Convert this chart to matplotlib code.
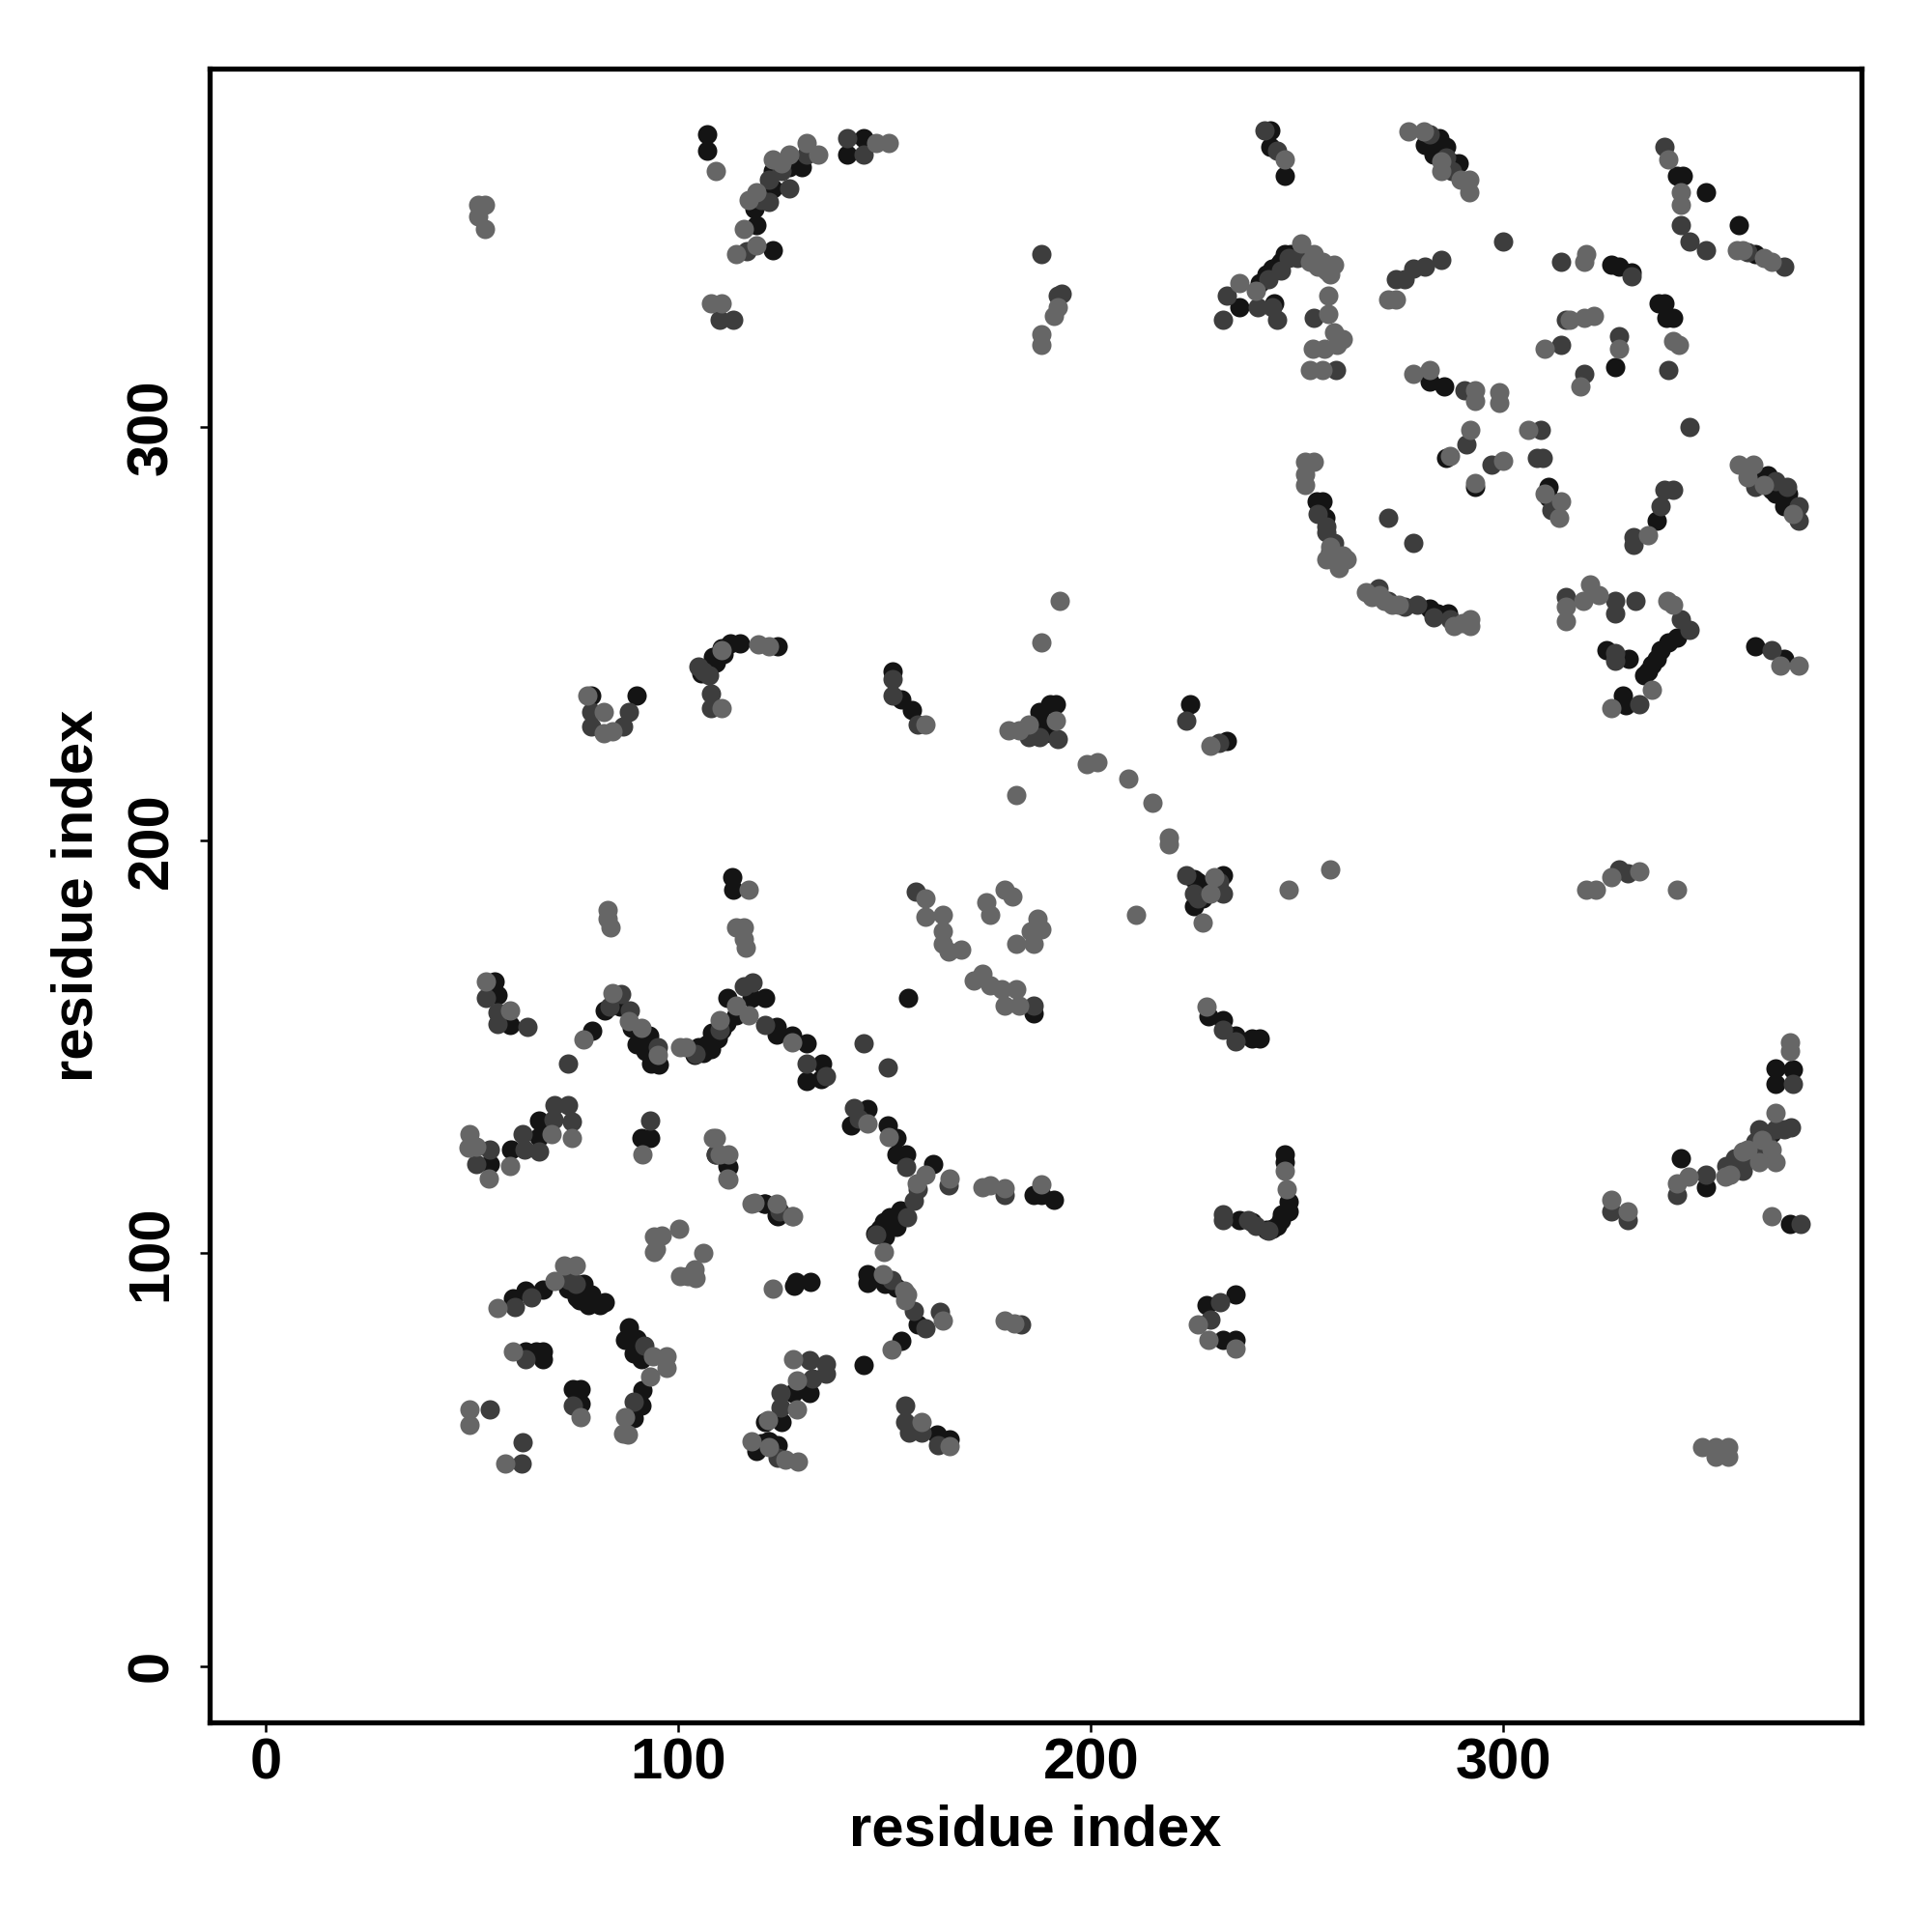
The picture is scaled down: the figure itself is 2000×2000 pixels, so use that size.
import matplotlib
matplotlib.use("Agg")
import matplotlib.pyplot as plt

dark_pts = [(107,371),(107,367),(123,343),(119,349),(118.5,353),(123,358),(123,362),(127,363),(130,363),(141,366),(145,370),
(243.5,372),(243.5,368),(247,361),(284.5,370),(281,368.5),(284.5,366.5),(288,364),(289,364),(283,366),(286,368),(342,361),(343.5,361),(349,357),(357,349),(361,342),
(236,329),(244.5,330),(242.5,337),(244,338.5),(245.5,339.5),(247,342),(248.5,342),(241,335),(243,337),(246,340),(282,311),(285.6,310),(286,292.6),(293,285.6),
(311,285.6),(311,283),(326,339.5),(331,337.5),(328,339),(337.5,330),(339,330),(339.5,326.5),(341,326.5),(327,314.5),(254.6,282),(256,282),(256.7,278),
(282,256),(284,255),(286.6,255),(364,288.5),(362,287),(365,285),(366,284),(369,284),(368,281),(337,277.5),(340,248),(338,246),(336,242.5),(334,240),(342,249),(337,244),(335,241),(325,246),(330.4,244),(329,235),(329.6,232.6),
(361,247),(368,244),(79,235),(90,235),(108.4,244.5),(110.5,246.4),(112.5,247.8),(115,247.8),(124,247),(107,241),(109,243),(111,245),(105.5,240.5),
(152,241),(154,234),(156.7,231.6),(187.5,231),(189.5,227.5),(191.6,233),(190,233),(189,226),(187,228),(224,233),(233,224),
(225,190.5),(226,190),(225,184),(232,191.6),(227,186),(227,189),(228,187),(113,191),(113.4,188),(186,158),
(55.4,165.8),(56.1,162.6),(59.2,155.3),(79.2,153.8),(82.1,158.8),(86,159.6),(88.7,154.6),(93,152.6),(89.9,150.6),(93.4,146),(95.3,145.6),(91,151),(92,149),
(105,149.9),(107,150.6),(108.1,153.4),(111.6,155.7),(114,157.6),(112,161.9),(117.8,161.9),(121,161.8),(123.9,154.9),(123.9,153),(127.7,152.8),(131,150.8),(106,148.5),(108,149.5),(109.5,152),(110.5,154),(104,148),
(131,141.7),(134.9,146),(134.5,142.1),(155.7,161.8),(54.4,121.6),(59.4,125.1),(66.2,132),(66.2,128.2),(91.1,127.9),(93.2,127.9),(109.1,123.9),(112.2,120.8),
(120.7,112),(123.9,109.1),(141.9,130.9),(145.8,134.9),(150.8,130.9),(152.9,127.8),(152.9,123.9),(155.1,123.9),(153.9,110.3),(151.2,108.8),(148.9,106),(150.1,104.1),(152.8,106.4),(149.8,107.5),(147.8,104.8),
(161.8,121.5),(60,89.1),(63.1,90.9),(67.2,91.1),(73.2,91.3),(75.5,89.4),(77.1,92.5),(79,90.1),(78.3,87.4),(81,87.4),(82.1,88.2),(76,88.5),
(63.1,76.2),(67.2,76.2),(67.2,74.2),(65.5,76.2),(74.4,67),(76.3,67),(76.3,63.6),(88,82),(87.2,78.9),(89.9,79.3),(89.1,75.8),(91.1,74.2),(91.2,66.9),(91.1,63),(89.1,60),
(127.9,66.1),(131.8,66.1),(125.1,59.1),(121,59.2),(121.7,54.4),(120,54),(122,54.5),(119,52),(124,53.5),(162.7,56),(165.7,55),(145,73),(154,78.8),(145.8,94.8),(145.8,92.8),(152.8,91.7),(150.1,92.5),(158,82.7),
(186,114),(188,114),(191,113),(228.4,157.3),(232,156.4),(235,152.8),(239,152),(241,152),(236,108),(239,107.5),(242.5,105.6),(245,106.5),(246.3,109.5),(247.8,112.5),(247,124),(247,122),(244,106),(246,108),(248,110),
(228,87.5),(232,79),(235,90),(235,79),(343,123),(349,116),(361,124.5),(365,129),(366,144.7),(370,144.5),(366,141),(369.3,107),(128,92),(128.5,93),(132,93),(121,112),(124,109),(112,121)]

mid_pts = [(116.7,342.6),(122,354.5),(120,355),(122,360),(125,362),(127,358),(131,366),(141,370),(145,366),(113.4,326),(110,326),(188,342),(192,332),(193,332.5),
(242,372),(245,367),(282,371),(286,365.4),(287.5,362),(339,368),(343,349),(349,343),(368,339),(359,342.5),(345,345),(300,345),
(232,326),(233,332),(240.5,329),(244,329),(245,326),(248,341),(250,341),(252,342),(246,338),(254,326.5),(243,336),(259.5,314),(274,336),(278,338.5),(281,339),(285,340.5),(276,336),
(290.5,309),(291,296),(297,291),(309,299.5),(308,292.5),(309.5,292.5),(311.5,280),(345,300),(314,340),(315,326),(314,320),(328,322),(319.5,313),(340,314),(331,336.5),
(255,279),(257,276),(259,272),(258,270),(257,274.6),(269.6,261),(272,258),(276,256.5),(279,257),(283,254),(287,253.5),(272,278),(278,272),(368.6,285.6),(361,285.6),(371.6,281),(371.6,277.5),(366,287),
(339,285),(341,285),(338,281),(331.4,273.4),(331.4,271.6),(315,259),(327,255),(332,258),(327,258),(343,253.5),(345,251),(327,245.4),(327,243.5),(333,233),
(365,246),(79,231),(79,227.5),(86.6,227.5),(88,231),(105,242),(106,241),(107.5,240),(108,235.5),(108,232),(152,239),(152,235),(158,228),
(185,225),(192,224.5),(187.5,225),(223,229),(231,223.5),(223,191.6),(225,187),(226,186),(231,190),(232,187),(328,193),(330,192),(157.6,187.5),(186,160),
(53.4,161.9),(56.1,158.4),(56.1,155.6),(63.4,154.8),(73.2,145.9),(83.3,159.6),(86.2,162.7),(88.2,158.8),(95,149.9),(104.3,148.3),(110.1,154.2),(115.9,164.6),(118.1,165.6),(121,155.3),(131,146),(135.9,142.9),
(144.9,150.8),(150.8,144.9),(54.4,125.1),(51.1,121.6),(62.2,128.9),(62.7,125.1),(66.2,124.6),(70.1,135.9),(69.7,132.4),(73.2,135.9),(74.2,131.9),(93.2,132),
(142.5,135.1),(143.8,132.6),(155.3,120.8),(157,112.6),(147.9,104.5),(155.5,108.8),(158,115.5),(165.6,116.5),(60.3,87),(64.3,89.4),(73.6,93.6),(75.2,92.5),
(63.1,74.2),(74.4,63),(54.4,62.2),(62.4,54.3),(62,49),(91.8,77.7),(89.1,64.1),(131.8,74),(135.9,73.1),(135.9,70.7),(132.6,69.6),(124.8,66.1),(124.8,62.6),
(124,50.5),(155,63),(155,59),(156,56.5),(159,56.5),(163,53.5),(151.6,93.6),(160,81.8),(163.3,85.7),(157,86),(183,82.7),(179,114),
(235,151.3),(232,154),(232,109.5),(240,106.5),(243,105.5),(238,108),(232,108),(229,84),(231.3,88),(326,110),(330,108),(342,114),(349,119),(354,121),(356,123),(358,122),(358,120),(360,123),(363,125),(361,127),(364,126),(368,130),(362,130),(366,130),(369.6,130.5),(370,141),(372,107),(124.5,110),(109,124)]

light_pts = [(51.6,354),(53.1,354),(51.6,351),(53.1,348),(109,362),(114,342),(119,344),(116,348),(117,355),(119,357),(123,365),(125,364),(127,366),(131,369),(134,366),(148,369),(151,369),
(108,330),(110.5,330),(188,320),(188,322.5),(192,329),(191,327),(247,365),(277,371.6),(280.6,371.6),(285,362),(289.5,360),(291.6,360),(291.6,357),(285,364.5),
(340,365),(343,357),(343,354),(356.6,343),(358,343),(365,340),(363,341),(236,335),(240,333),(251,344.5),(253,340),(254,342),(255,339),(256,340),(257,338),(258,337),(259,339.5),(257.6,332),(257.6,327.5),(259,323),(261,321.5),(259.6,320),(253.7,319),(256.5,319),(253,314),(256,314),
(272,331),(274,331),(278,313),(282,314),(293,309),(293,306.5),(299,308.5),(299,306),(292,299.5),(287,293),(300,292),(293,286.5),(306,299.5),(310,284),(314,282),(313.5,278),
(319.5,340),(320,342),(316,326),(319.5,326.5),(322,327),(310,319),(328,319),(341,321),(342.5,320),(318.5,310),
(252,291.6),(254,291.6),(252,288.6),(252,286),(258,271),(257,268),(261,269),(261.4,268),(262,268),(260,266),(266.6,260),(268,259),(270,259.5),(271,258),(273,257),(274.6,257),(288,252),(290,252.5),(292,253.5),(292,252),
(357,291),(360.6,291),(359,288),(363,286),(370,279),(335,274),(315,256.5),(315,253),(321,262),(323,259.5),(319.4,258),(339.6,258),(341,257),(336,236.4),(326,232),(367,242.4),(371.6,242.4),
(78,235),(82,231),(82,226),(84,226.5),(119.4,247.5),(122,247),(110.5,246),(110.5,232),(160,228),(180,226.6),(182.7,226.6),(191.6,229),(185,228),
(192.5,258),(188,248),(182,211),(199,218.5),(201.5,219),(209,215),(215,209),(219,200.6),(219,199),(229,223),(227,180),(229,187),(230,191),(248,188),(258,193),(211,182),
(320,188),(322.4,188),(326,191),(333,192.5),(342,188),(117,188),(114,179),(116,179),(116,176),(116.4,174),(83,183),(83,181),(83.6,179),
(160,186),(160,181.5),(164,182),(164,178),(164,175),(165.5,173),(168.5,173.5),(174.6,185),(179,188),(181,186.5),(175.5,182),(187,181),(185.5,178),(188,178.5),(182,175),(186,175),
(171.6,166),(173.7,167.7),(175.5,164.8),(178.5,164),(182,164),(179,160),(182.5,160),
(53.4,165.8),(59.2,158.8),(77.1,151.8),(84.1,163.1),(91.1,154.6),(95,148),(88,156.1),(100.4,149.9),(101.8,149.9),(110.1,156.5),(114,160),(117.1,157.6),(127.5,151),
(49.4,128.9),(49.2,125.5),(51.1,125.8),(54.2,118.1),(59.3,121.2),(69.3,128.9),(74.2,127.8),(91.2,123.9),(109.1,128),(110.1,123.9),(112.2,123.9),(112.2,117.9),
(117.8,112),(123.9,112),(127.9,109),(145.8,131.3),(151,128.2),(157.8,116.9),(149.9,100.2),(165.7,118),(160,119),
(94.2,104.1),(96.1,104.3),(100.2,106),(94.2,100.2),(94.6,101),(106.1,100.1),(100.4,94.4),(103.9,96),(104.3,94),(102.3,94.4),
(56.3,86.6),(70,93.2),(72.4,97.1),(75.2,97.1),(60,76.2),(76.3,60.3),(49.4,62.2),(49.4,58.3),(58,49),(93.8,75),(97.1,75),(97.1,72.3),(93.2,70),(87.2,60.3),(86.6,56.4),(87.8,56.1),
(127.9,74.2),(128.7,69.2),(128.7,62.2),(121.7,59.5),(117.8,54.4),(122,53),(126,50),(129,49.5),(159,59),(165.7,53.3),(151.6,76.7),(149.7,94.8),(154.8,90.9),(155.5,90),(155,88.6),(164,83.6),
(179,83.6),(181.5,83),(173.7,116),(175.5,116.4),(179,115.8),(188,116.7),(228,159.7),(247.5,115.5),(247,120),(226,82.7),(228.4,79),(235,77),(326,113),(330,110),
(342,117),(344.8,118.5),(353.7,118.5),(355,119),(358,124.5),(359,125),(362,122),(362.7,127.5),(365,125),(366,122),(366,134),(369.5,149),(369.5,151),(365,109),(348,53),(351.3,53),(354.4,53),(351.3,50.7),(354.4,50.7),
(123,91.3),(118.5,112.2),(127.5,109),(108.4,128),(112,118)]

tick_values = [0, 100, 200, 300]
axis_label = "residue index"
grey_dark, grey_mid, grey_light = "#141414", "#3d3d3d", "#666666"

plt.rcParams['font.family'] = ['Liberation Sans', 'DejaVu Sans']
fig = plt.figure(figsize=(10, 10), dpi=200)
W = 1568
ax = fig.add_axes([170/W, 1-1398/W, (1511-170)/W, (1398-56)/W])

for pts, col in ((dark_pts, grey_dark), (mid_pts, grey_mid), (light_pts, grey_light)):
    ax.scatter([p[0] for p in pts], [p[1] for p in pts], s=52, color=col, linewidths=0, zorder=3)

ax.set_xlim(-13.6, 386.8)
ax.set_ylim(-13.7, 386.8)
ax.set_xticks(tick_values)
ax.set_yticks(tick_values)
ax.tick_params(axis='x', length=3.5, width=0.9, labelsize=21.5, pad=2)
ax.tick_params(axis='y', length=3.5, width=0.9, labelsize=21.5, pad=8)
for lab in ax.get_xticklabels() + ax.get_yticklabels():
    lab.set_fontweight('bold')
for lab in ax.get_yticklabels():
    lab.set_rotation(90)
    lab.set_va('center')
for s in ax.spines.values():
    s.set_linewidth(1.9)
ax.set_xlabel(axis_label, fontsize=21.5, fontweight='bold', labelpad=5)
ax.set_ylabel(axis_label, fontsize=21.5, fontweight='bold', labelpad=8)
fig.savefig("out.png", dpi=200)
